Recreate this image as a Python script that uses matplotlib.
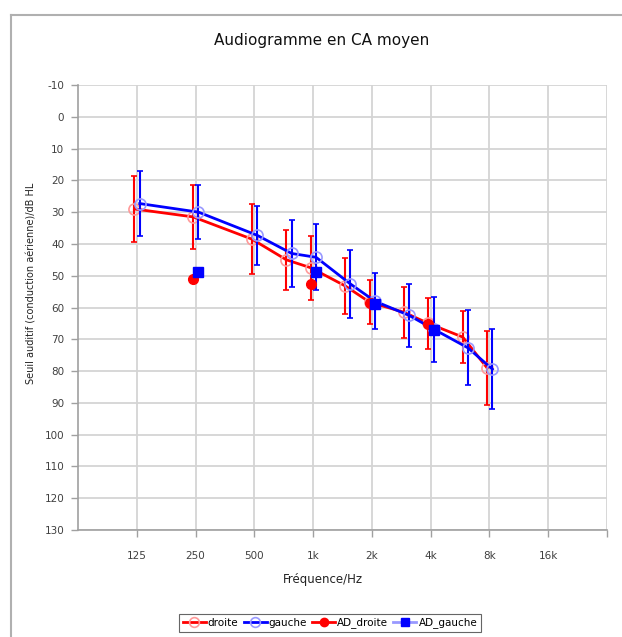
import matplotlib
matplotlib.use("Agg")
import matplotlib.pyplot as plt
from matplotlib.lines import Line2D
import numpy as np

# ---- data ----
freqs = [125, 250, 500, 750, 1000, 1500, 2000, 3000, 4000, 6000, 8000]
droite = [29, 31.5, 38.5, 45, 47.5, 53.2, 58.3, 61.5, 65, 69.3, 79]
droite_err = [10.5, 10, 11, 9.5, 10, 8.7, 6.9, 8, 8, 8.3, 11.6]
gauche = [27.3, 30, 37.3, 43, 44.2, 52.6, 58, 62.5, 66.8, 72.7, 79.4]
gauche_err = [10.3, 8.4, 9.3, 10.4, 10.4, 10.7, 8.8, 9.9, 10.2, 11.8, 12.6]
ad_freqs = [250, 1000, 2000, 4000]
ad_droite = [51, 52.5, 58.5, 65.3]
ad_gauche = [48.7, 48.7, 58.8, 67.2]

tick_freqs = [125, 250, 500, 1000, 2000, 4000, 8000, 16000]
tick_labels = ["125", "250", "500", "1k", "2k", "4k", "8k", "16k"]
y_ticks = list(range(-10, 131, 10))

title = "Audiogramme en CA moyen"
xlabel = "Fréquence/Hz"
ylabel = "Seuil auditif (conduction aérienne)/dB HL"

W, H = 622, 637
fig = plt.figure(figsize=(W / 100, H / 100), dpi=100)
fig.patch.set_facecolor("white")

ax = fig.add_axes([78 / W, 1 - 530 / H, (607 - 78) / W, (530 - 85) / H])
ax.set_xscale("log", base=2)
ax.set_xlim(62.5, 32000)
ax.set_ylim(130, -10)

red = "#FF0000"
blue = "#0000FF"
off_r = 2 ** (-0.04)
off_b = 2 ** (0.05)

fr = np.array(freqs) * off_r
fb = np.array(freqs) * off_b

ax.errorbar(fr, droite, yerr=droite_err, color=red, lw=2, elinewidth=1.5,
            capsize=2.5, capthick=1.2, marker="o", ms=8, mfc="none",
            mec=(1, 0.6, 0.6), mew=1.2, zorder=3)
ax.errorbar(fb, gauche, yerr=gauche_err, color=blue, lw=2, elinewidth=1.5,
            capsize=2.5, capthick=1.2, marker="o", ms=8, mfc="none",
            mec=(0.6, 0.6, 1), mew=1.2, zorder=4)
ax.plot(np.array(ad_freqs) * off_r, ad_droite, ls="none", marker="o", ms=7,
        color=red, zorder=5)
ax.plot(np.array(ad_freqs) * off_b, ad_gauche, ls="none", marker="s", ms=6.5,
        color=blue, zorder=6)

# grid
ax.set_yticks(y_ticks)
ax.set_yticklabels([str(v) for v in y_ticks])
ax.minorticks_off()
ax.set_xticks(tick_freqs + [32000])
ax.set_xticklabels(tick_labels + [""])
ax.grid(True, color="#d4d4d4", lw=1.3, zorder=0)
ax.set_axisbelow(True)
for s in ["top", "right"]:
    ax.spines[s].set_visible(False)
for s in ["left", "bottom"]:
    ax.spines[s].set_color("#a0a0a0")
    ax.spines[s].set_linewidth(1.2)
ax.tick_params(axis="both", colors="#a0a0a0", length=5, width=1,
               labelcolor="#404040", labelsize=7.5)
ax.tick_params(axis="x", pad=10)
ax.tick_params(axis="y", pad=5)

fig.text(322 / W, 1 - 40 / H, title, ha="center", va="center",
         fontsize=11, color="#111111", fontweight="medium")
fig.text(323 / W, 1 - 580 / H, xlabel, ha="center", va="center",
         fontsize=8.5, color="#222222", fontweight="medium")
fig.text(32 / W, 1 - 283 / H, ylabel, ha="center", va="center",
         rotation=90, fontsize=7, color="#222222", fontweight="medium")

handles = [
    Line2D([], [], color=red, lw=2, marker="o", ms=7, mfc="none",
           mec=(1, 0.6, 0.6), mew=1.2),
    Line2D([], [], color=blue, lw=2, marker="o", ms=7, mfc="none",
           mec=(0.6, 0.6, 1), mew=1.2),
    Line2D([], [], color=red, lw=2, marker="o", ms=6),
    Line2D([], [], color=(0.6, 0.6, 1), lw=2, marker="s", ms=6,
           mfc=blue, mec=blue),
]
leg = fig.legend(handles, ["droite", "gauche", "AD_droite", "AD_gauche"],
                 loc="center", bbox_to_anchor=(330 / W, 1 - 623 / H),
                 ncol=4, fontsize=7.5, frameon=True, fancybox=False,
                 handlelength=2.2, handletextpad=0.2, columnspacing=0.5,
                 borderpad=0.35)
leg.get_frame().set_edgecolor("#404040")
leg.get_frame().set_linewidth(0.8)

# outer chart frame (top and left edges visible)
fig.add_artist(Line2D([11 / W, 1.0], [1 - 15 / H, 1 - 15 / H],
                      transform=fig.transFigure, color="#b0b0b0", lw=1.5))
fig.add_artist(Line2D([11 / W, 11 / W], [0, 1 - 15 / H],
                      transform=fig.transFigure, color="#b0b0b0", lw=1.5))

fig.savefig("out.png", dpi=100)
